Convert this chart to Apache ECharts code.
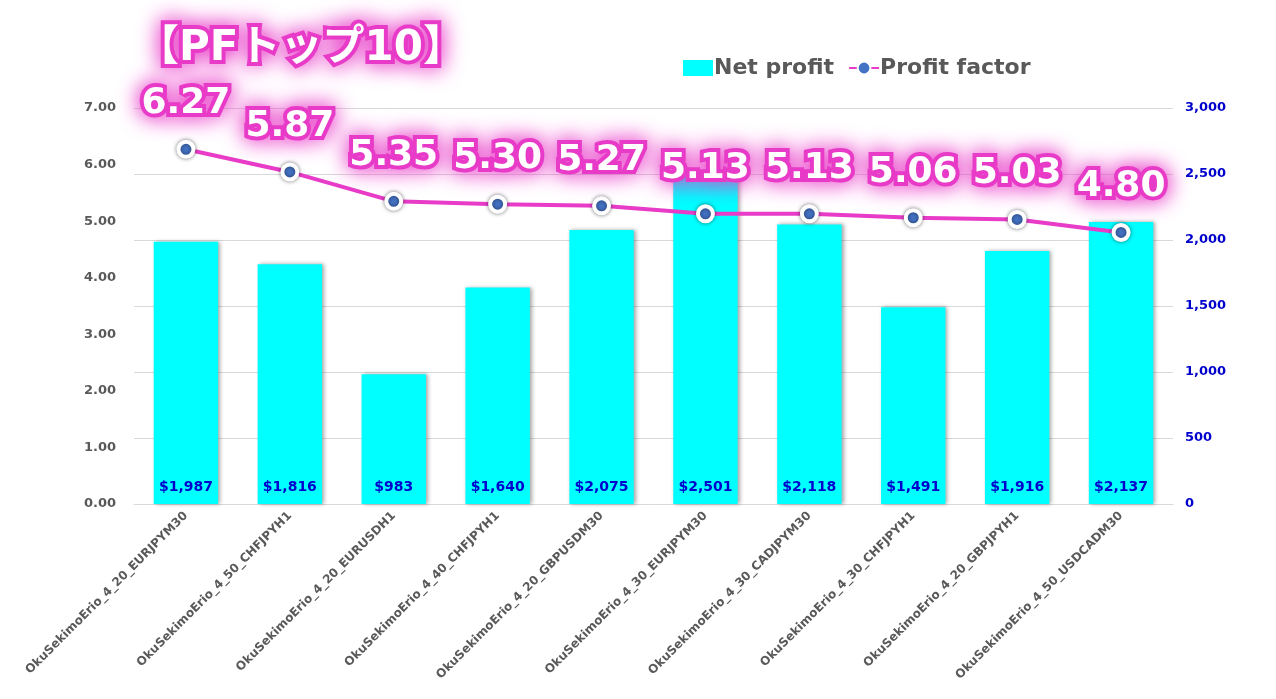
<!DOCTYPE html>
<html>
<head>
<meta charset="utf-8">
<script src="https://cdn.jsdelivr.net/npm/echarts@6/dist/echarts.min.js"></script>
<style>html,body{margin:0;padding:0;background:#fff;}#c{width:1276px;height:699px;}</style>
</head>
<body>
<div id="c"></div>
<script>
var categories = ['OkuSekimoErio_4_20_EURJPYM30','OkuSekimoErio_4_50_CHFJPYH1','OkuSekimoErio_4_20_EURUSDH1','OkuSekimoErio_4_40_CHFJPYH1','OkuSekimoErio_4_20_GBPUSDM30','OkuSekimoErio_4_30_EURJPYM30','OkuSekimoErio_4_30_CADJPYM30','OkuSekimoErio_4_30_CHFJPYH1','OkuSekimoErio_4_20_GBPJPYH1','OkuSekimoErio_4_50_USDCADM30'];
var netProfit = [1987, 1816, 983, 1640, 2075, 2501, 2118, 1491, 1916, 2137];
var profitFactor = [6.27, 5.87, 5.35, 5.30, 5.27, 5.13, 5.13, 5.06, 5.03, 4.80];
var titleText = '【PFトップ10】';

var FONT = 'Verdana, "DejaVu Sans", "Noto Sans CJK JP", sans-serif';
var MAG = '#E83CC8';
var chart = echarts.init(document.getElementById('c'));
chart.setOption({
  animation: false,
  backgroundColor: '#ffffff',
  title: {
    text: titleText,
    left: 132, top: 23,
    textStyle: {
      fontFamily: FONT, fontSize: 42, fontWeight: 'bold', color: '#ffffff',
      textBorderColor: MAG, textBorderWidth: 8,
      textShadowColor: MAG, textShadowBlur: 22
    }
  },
  legend: {
    left: 678, top: 52,
    itemWidth: 30, itemHeight: 16, itemGap: 14,
    textStyle: { fontFamily: FONT, fontSize: 22, fontWeight: 'bold', color: '#595959', padding: [0,0,0,-4] },
    data: [
      { name: 'Net profit', icon: 'rect' },
      { name: 'Profit factor' }
    ]
  },
  grid: { left: 134, right: 103, top: 108, bottom: 195, containLabel: false },
  xAxis: {
    type: 'category',
    data: categories,
    axisTick: { show: false },
    axisLine: { lineStyle: { color: '#D9D9D9', width: 1 } },
    axisLabel: {
      rotate: 45, interval: 0, margin: 10,
      fontFamily: FONT, fontSize: 12, fontWeight: 'bold', color: '#595959'
    }
  },
  yAxis: [
    {
      type: 'value', min: 0, max: 7, interval: 1, position: 'left',
      splitLine: { show: false },
      axisLine: { show: false }, axisTick: { show: false },
      axisLabel: {
        margin: 18,
        fontFamily: FONT, fontSize: 13, fontWeight: 'bold', color: '#595959',
        formatter: function (v) { return v.toFixed(2); }
      }
    },
    {
      type: 'value', min: 0, max: 3000, interval: 500, position: 'right',
      splitLine: { show: true, lineStyle: { color: '#D9D9D9', width: 1 } },
      axisLine: { show: false }, axisTick: { show: false },
      axisLabel: {
        margin: 12, align: 'left',
        fontFamily: FONT, fontSize: 13, fontWeight: 'bold', color: '#0000CC',
        formatter: function (v) { return v.toLocaleString('en-US'); }
      }
    }
  ],
  series: [
    {
      name: 'Net profit',
      type: 'bar',
      yAxisIndex: 1,
      data: netProfit,
      barWidth: '62%',
      z: 2,
      itemStyle: {
        color: '#00FFFF',
        shadowColor: 'rgba(0,0,0,0.35)', shadowBlur: 4, shadowOffsetX: 2, shadowOffsetY: 0
      },
      label: {
        show: true, position: 'insideBottom', distance: 10,
        fontFamily: FONT, fontSize: 14, fontWeight: 'bold', color: '#0000CC',
        formatter: function (p) { return '$' + p.value.toLocaleString('en-US'); }
      }
    },
    {
      name: 'Profit factor',
      type: 'line',
      yAxisIndex: 0,
      data: profitFactor,
      z: 5,
      symbol: 'circle',
      symbolSize: 15,
      lineStyle: { color: MAG, width: 4 },
      itemStyle: {
        color: '#4472C4', borderColor: '#ffffff', borderWidth: 4,
        shadowColor: 'rgba(0,0,0,0.45)', shadowBlur: 4
      },
      label: {
        show: true, position: 'top', distance: 18,
        fontFamily: FONT, fontSize: 36, fontWeight: 'bold', color: '#ffffff',
        textBorderColor: MAG, textBorderWidth: 8,
        textShadowColor: MAG, textShadowBlur: 22,
        formatter: function (p) { return p.value.toFixed(2); }
      }
    }
  ]
});
</script>
</body>
</html>
